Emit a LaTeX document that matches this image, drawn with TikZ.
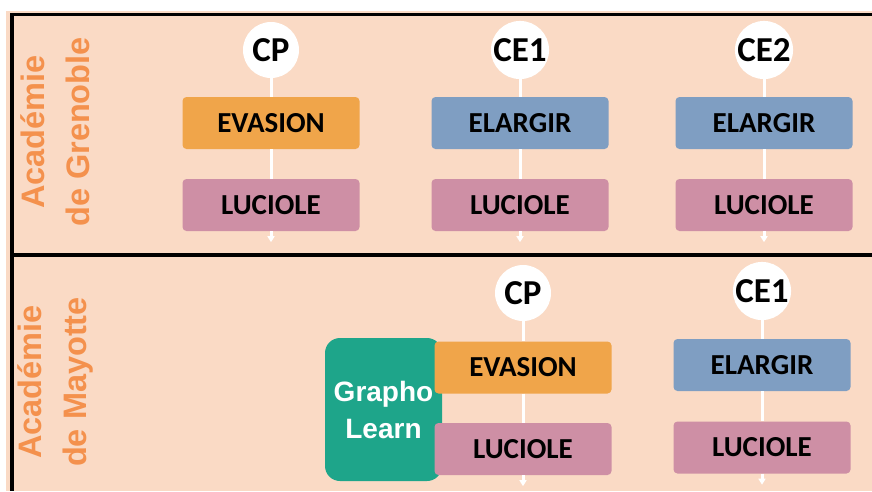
\documentclass[tikz,border=0pt]{standalone}
\usepackage{fontspec}
\setmainfont{Liberation Sans}
\newfontfamily\boxfont{Carlito}
\usetikzlibrary{arrows.meta,positioning}

\definecolor{peach}{HTML}{FADAC5}
\definecolor{acadorange}{HTML}{F4914D}
\definecolor{evasionorange}{HTML}{F0A54A}
\definecolor{elargirblue}{HTML}{7F9EC2}
\definecolor{luciolepink}{HTML}{CE8FA5}
\definecolor{graphoteal}{HTML}{1EA58A}

\begin{document}
\begin{tikzpicture}[x=1pt, y=-1pt, >={Triangle[width=7pt,length=6pt]},
    level/.style={circle, fill=white, minimum size=56pt, inner sep=0pt,
      font=\boxfont\bfseries\fontsize{35}{40}\selectfont},
    prog/.style={rounded corners=4pt, minimum width=177pt, minimum height=52pt,
      inner sep=0pt, font=\boxfont\bfseries\fontsize{29}{34}\selectfont},
    evasion/.style={prog, fill=evasionorange},
    elargir/.style={prog, fill=elargirblue},
    luciole/.style={prog, fill=luciolepink},
    grapho/.style={rounded corners=15pt, fill=graphoteal, text=white, align=center,
      minimum width=117pt, minimum height=143pt, inner sep=0pt,
      font=\bfseries\fontsize{28}{37}\selectfont},
    academie/.style={rotate=90, align=center, text=acadorange,
      font=\bfseries\fontsize{32.5}{45}\selectfont},
    link/.style={white, line width=3pt}]
      \useasboundingbox (0,0) rectangle (872,491);

      % table
      \fill[peach] (6,11) rectangle (872,491);
      \draw[line width=3.5pt] (872,14.5) -- (12,14.5) -- (12,491);
      \draw[line width=3.5pt] (12,255) -- (872,255);

      % Grenoble
      \node[academie] (acG) at (55.5,132) {Académie\\de Grenoble};

      \node[level] (cpG) at (271,50) {CP};
      \node[evasion] (evG) at (271,123) {EVASION};
      \node[luciole] (luG) at (271,205) {LUCIOLE};
      \coordinate[below=11pt of luG] (enG);

      \node[level] (ce1G) at (520,50) {CE1};
      \node[elargir] (elG) at (520,123) {ELARGIR};
      \node[luciole] (lu1G) at (520,205) {LUCIOLE};
      \coordinate[below=11pt of lu1G] (en1G);

      \node[level] (ce2G) at (764,50) {CE2};
      \node[elargir] (el2G) at (764,123) {ELARGIR};
      \node[luciole] (lu2G) at (764,205) {LUCIOLE};
      \coordinate[below=11pt of lu2G] (en2G);

      \draw[link] (cpG) -- (evG);
      \draw[link] (evG) -- (luG);
      \draw[link, ->] (luG) -- (enG);
      \draw[link] (ce1G) -- (elG);
      \draw[link] (elG) -- (lu1G);
      \draw[link, ->] (lu1G) -- (en1G);
      \draw[link] (ce2G) -- (el2G);
      \draw[link] (el2G) -- (lu2G);
      \draw[link, ->] (lu2G) -- (en2G);

      % Mayotte
      \node[academie] (acM) at (55.5,382) {Académie\\de Mayotte};
      \node[grapho] (gl) at (383.5,409.5) {Grapho\\Learn};

      \node[level] (cpM) at (523,293) {CP};
      \node[evasion] (evM) at (523,367.5) {EVASION};
      \node[luciole] (luM) at (523,449) {LUCIOLE};
      \coordinate[below=11pt of luM] (enM);

      \node[level] (ce1M) at (762,291) {CE1};
      \node[elargir] (elM) at (762,365) {ELARGIR};
      \node[luciole] (lu1M) at (762,447.5) {LUCIOLE};
      \coordinate[below=11pt of lu1M] (en1M);

      \draw[link] (cpM) -- (evM);
      \draw[link] (evM) -- (luM);
      \draw[link, ->] (luM) -- (enM);
      \draw[link] (ce1M) -- (elM);
      \draw[link] (elM) -- (lu1M);
      \draw[link, ->] (lu1M) -- (en1M);
    \end{tikzpicture}
\end{document}
